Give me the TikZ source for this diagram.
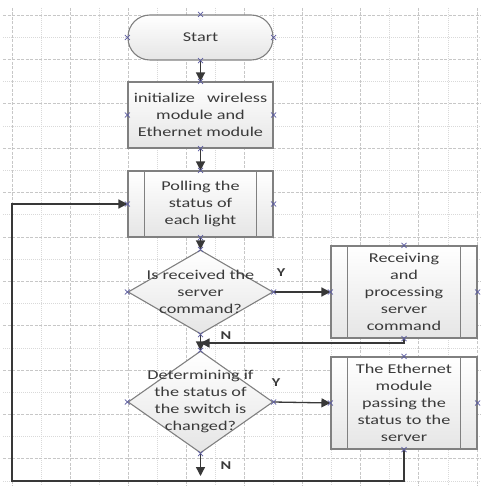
\documentclass[tikz,border=0pt]{standalone}
\usepackage{fontspec}
\setmainfont{Carlito}[FakeStretch=1.35]
\usetikzlibrary{arrows.meta,shapes.geometric,calc}
\definecolor{txtc}{HTML}{3A3A3A}
\definecolor{bordc}{HTML}{808080}
\definecolor{markc}{HTML}{5A5AA0}
\begin{document}
\begin{tikzpicture}[x=1pt,y=-1pt,
  gridA/.style={draw=black!22,dashed,dash pattern=on 3pt off 1.5pt,line width=0.7pt},
  gridB/.style={draw=black!15,dash pattern=on 1pt off 1pt,line width=0.7pt},
  shapebase/.style={draw=bordc,line width=1.1pt,top color=white,bottom color=black!10,
    text=txtc,font=\fontsize{13.5}{17}\selectfont,align=center,inner sep=0pt},
  term/.style={shapebase,rectangle,rounded corners=22pt,minimum width=145pt,minimum height=45pt},
  proc/.style={shapebase,rectangle,minimum width=145pt,minimum height=66pt},
  dia/.style={shapebase,diamond,minimum width=145pt},
  dtext/.style={text=txtc,font=\fontsize{13.5}{17}\selectfont,align=center,inner sep=0pt},
  lab/.style={text=txtc,font=\fontsize{12}{14}\selectfont\bfseries,inner sep=0pt},
  conn/.style={draw=black!78,line width=1.3pt,-{Triangle[length=9pt,width=9pt]}},
  plainline/.style={draw=black!60,line width=1.3pt},
  cmark/.style={draw=markc,line width=0.7pt}]
\useasboundingbox (0,0) rectangle (481,486);
% grid
\foreach \i in {0,2,...,16} \draw[gridA] ({12+29.06*\i},8) -- ({12+29.06*\i},486);
\foreach \i in {1,3,...,15} \draw[gridB] ({12+29.06*\i},8) -- ({12+29.06*\i},486);
\foreach \j in {0,2,...,20} \draw[gridA] (3,{15+22.19*\j}) -- (481,{15+22.19*\j});
\foreach \j in {1,3,...,21} \draw[gridB] (3,{15+22.19*\j}) -- (481,{15+22.19*\j});
% nodes
\node[term] (start) at (200.5,37.5) {Start};
\node[proc] (init) at (200.5,115) {initialize\ \ \ wireless\\module and\\Ethernet module};
\node[proc] (poll) at (200.5,204) {Polling the\\status of\\each light};
\node[dia,minimum height=84pt] (d1) at (200.5,292) {};
\node[dtext] (d1t) at (200.5,292) {Is received the\\server\\command?};
\node[proc,minimum width=146pt,minimum height=92pt] (recv) at (404,292) {Receiving\\and\\processing\\server\\command};
\node[dia,minimum height=102pt] (d2) at (200.5,402) {};
\node[dtext] (d2t) at (200.5,402) {Determining if\\the status of\\the switch is\\changed?};
\node[proc,minimum width=146pt,minimum height=92pt] (eth) at (404,403) {The Ethernet\\module\\passing the\\status to the\\server};
% predefined process side bars
\foreach \n in {poll,recv,eth}{
  \draw[draw=bordc,line width=1.1pt] ($(\n.north west)+(17,0)$) -- ($(\n.south west)+(17,0)$);
  \draw[draw=bordc,line width=1.1pt] ($(\n.north east)+(-17,0)$) -- ($(\n.south east)+(-17,0)$);
}
% coordinates
\coordinate (merge) at (200.5,343);
\coordinate (endn) at (200.5,476);
\coordinate (lb) at (12,481);
% connectors
\draw[conn] (start.south) -- (init.north);
\draw[conn] (init.south) -- (poll.north);
\draw[conn] (poll.south) -- (d1.north);
\draw[conn] (d1.east) -- (recv.west);
\draw[conn] (d1.south) -- (d2.north);
\draw[conn] (recv.south) |- (merge);
\draw[conn] (d2.east) -- (eth.west);
\draw[conn] (d2.south) -- (endn);
\draw[conn] (eth.south) |- (lb) |- (poll.west);
% labels
\node[lab] (y1) at (281,273) {Y};
\node[lab] (y2) at (276,383) {Y};
\node[lab] (n1) at (226,336) {N};
\node[lab] (n2) at (226,466) {N};
% connection markers
\foreach \n in {start,init,poll,d1,recv,d2,eth}{
  \foreach \a in {north,south,east,west}{
    \draw[cmark] ($(\n.\a)+(-2.5,-2.5)$) -- ($(\n.\a)+(2.5,2.5)$);
    \draw[cmark] ($(\n.\a)+(-2.5,2.5)$) -- ($(\n.\a)+(2.5,-2.5)$);
  }
}
\end{tikzpicture}
\end{document}
